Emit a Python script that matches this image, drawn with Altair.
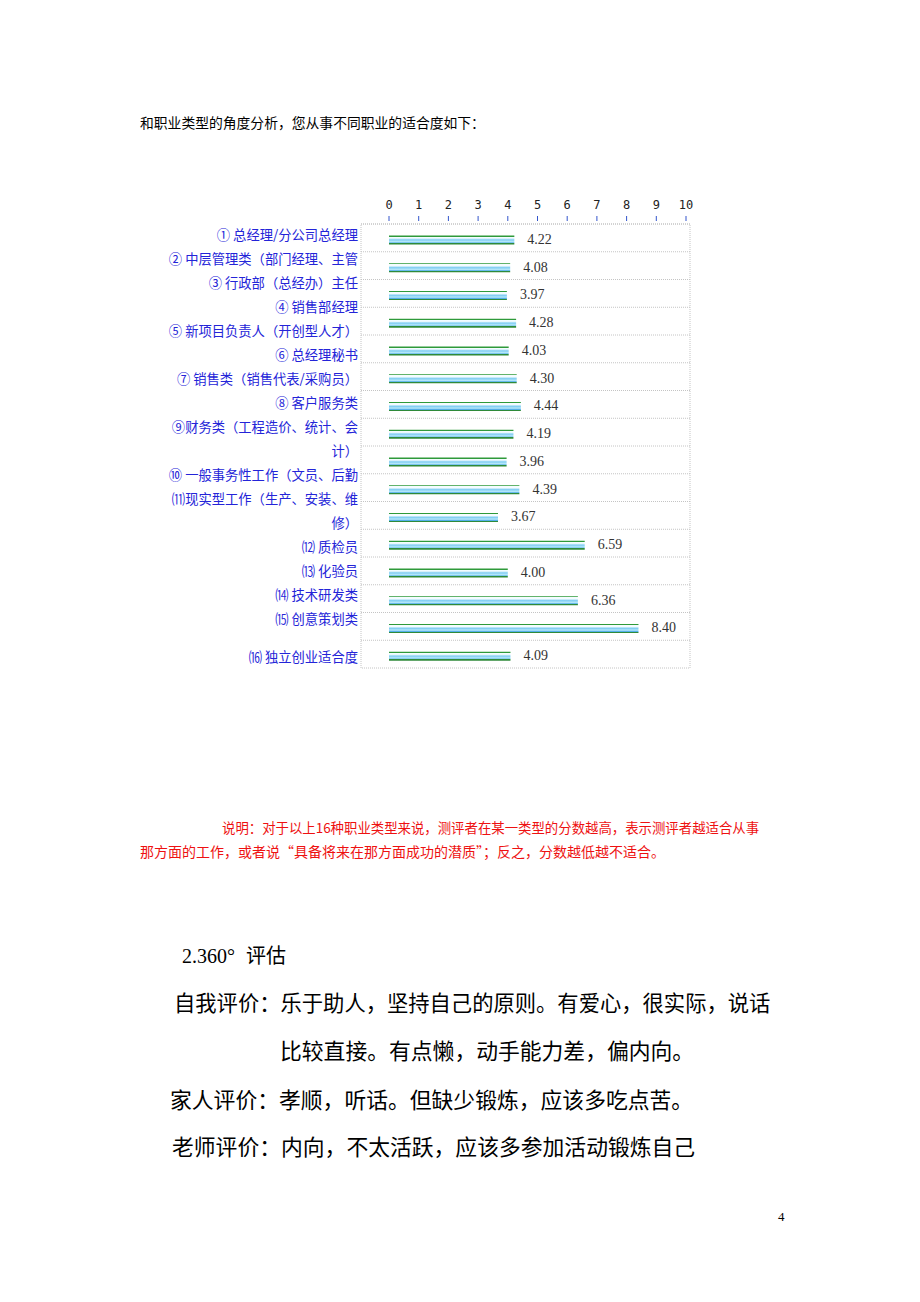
import altair as alt
import pandas as pd

# ---------------- data ----------------
row_ids = [f"r{i}" for i in range(1, 17)]
scores = [4.22, 4.08, 3.97, 4.28, 4.03, 4.30, 4.44, 4.19, 3.96, 4.39, 3.67, 6.59, 4.00, 6.36, 8.40, 4.09]
score_labels = ["4.22", "4.08", "3.97", "4.28", "4.03", "4.30", "4.44", "4.19", "3.96", "4.39", "3.67",
                "6.59", "4.00", "6.36", "8.40", "4.09"]
axis_ticks = list(range(0, 11))

label_lines = [
    "① 总经理/分公司总经理",
    "② 中层管理类（部门经理、主管",
    "③ 行政部（总经办）主任",
    "④ 销售部经理",
    "⑤ 新项目负责人（开创型人才）",
    "⑥ 总经理秘书",
    "⑦ 销售类（销售代表/采购员）",
    "⑧ 客户服务类",
    "⑨财务类（工程造价、统计、会",
    "计）",
    "⑩ 一般事务性工作（文员、后勤",
    "⑾现实型工作（生产、安装、维",
    "修）",
    "⑿ 质检员",
    "⒀ 化验员",
    "⒁ 技术研发类",
    "⒂ 创意策划类",
    "⒃ 独立创业适合度",
]

intro_text = "和职业类型的角度分析，您从事不同职业的适合度如下："
note_line1 = "说明：对于以上16种职业类型来说，测评者在某一类型的分数越高，表示测评者越适合从事"
note_line2 = "那方面的工作，或者说“具备将来在那方面成功的潜质”；反之，分数越低越不适合。"
section_num = "2.360°"
section_word = "评估"
eval_lines = [
    "自我评价：乐于助人，坚持自己的原则。有爱心，很实际，说话",
    "比较直接。有点懒，动手能力差，偏内向。",
    "家人评价：孝顺，听话。但缺少锻炼，应该多吃点苦。",
    "老师评价：内向，不太活跃，应该多参加活动锻炼自己",
]
page_number = "4"

# ---------------- layout ----------------
W, H = 920, 1302
CJK = "Noto Sans CJK SC"
SERIF = "Liberation Serif"

bars_df = pd.DataFrame({"cat": row_ids, "v": scores, "lbl": score_labels})
ticks_df = pd.DataFrame({"t": axis_ticks})

xscale = alt.Scale(domain=[0, 10], range=[389, 686])
yscale = alt.Scale(domain=row_ids, range=[224, 668], paddingInner=0, paddingOuter=0)

layers = []


def text_at(txt, x, y, size, color="#000000", align="left", font=CJK, weight="normal"):
    return alt.Chart(pd.DataFrame({"s": [txt]})).mark_text(
        align=align, baseline="middle", fontSize=size, color=color, font=font, fontWeight=weight
    ).encode(text="s:N", x=alt.value(x), y=alt.value(y))


# intro paragraph
layers.append(text_at(intro_text, 140, 124, 13.8))

# chart frame
frame = alt.Chart(pd.DataFrame({"a": [0]})).mark_rect(
    fill="white", stroke="#c4c4c4", strokeDash=[1, 1], strokeWidth=1
).encode(x=alt.value(361), x2=alt.value(690), y=alt.value(224), y2=alt.value(668))
layers.append(frame)

# row separators
seps = alt.Chart(bars_df).mark_rule(color="#c4c4c4", strokeDash=[1, 1], strokeWidth=1).encode(
    y=alt.Y("cat:N", scale=yscale, axis=None, bandPosition=0),
    x=alt.value(361), x2=alt.value(690),
)
layers.append(seps)

# bars
bar_grad = alt.Gradient(
    gradient="linear", x1=0, x2=0, y1=0, y2=1,
    stops=[
        alt.GradientStop(offset=0.0, color="#2f9a3a"),
        alt.GradientStop(offset=0.13, color="#2f9a3a"),
        alt.GradientStop(offset=0.14, color="#f4fcff"),
        alt.GradientStop(offset=0.3, color="#f4fcff"),
        alt.GradientStop(offset=0.5, color="#7fcdf2"),
        alt.GradientStop(offset=0.7, color="#b8e8fb"),
        alt.GradientStop(offset=0.86, color="#4aaae6"),
        alt.GradientStop(offset=0.87, color="#2f8a3a"),
        alt.GradientStop(offset=1.0, color="#2f8a3a"),
    ],
)
bars = alt.Chart(bars_df).mark_bar(size=9, yOffset=2, color=bar_grad).encode(
    x=alt.X("v:Q", scale=xscale, axis=None),
    x2=alt.datum(0),
    y=alt.Y("cat:N", scale=yscale, axis=None),
)
layers.append(bars)

vals = alt.Chart(bars_df).mark_text(
    align="left", baseline="middle", dx=13, dy=2, fontSize=14, color="#333333", font=SERIF
).encode(
    x=alt.X("v:Q", scale=xscale, axis=None),
    y=alt.Y("cat:N", scale=yscale, axis=None),
    text="lbl:N",
)
layers.append(vals)

# top axis (ticks + labels) through the x scale
tick_marks = alt.Chart(ticks_df).mark_rule(color="#3355cc", strokeWidth=1).encode(
    x=alt.X("t:Q", scale=xscale, axis=None), y=alt.value(216), y2=alt.value(221)
)
tick_text = alt.Chart(ticks_df).mark_text(
    baseline="middle", fontSize=12, color="#222222", font="DejaVu Sans Mono"
).encode(x=alt.X("t:Q", scale=xscale, axis=None), y=alt.value(205), text="t:Q")
layers += [tick_marks, tick_text]

# category label lines (document text, 24px line spacing)
for i, s in enumerate(label_lines):
    y = 236 + 24 * i if i < len(label_lines) - 1 else 658
    layers.append(text_at(s, 358, y, 13.3, color="#2424d8", align="right"))

# red note
layers.append(text_at(note_line1, 222, 829, 13.4, color="#ee1111"))
layers.append(text_at(note_line2, 140, 853, 14, color="#ee1111"))

# 360 evaluation section
layers.append(text_at(section_num, 182, 957, 20, font=SERIF))
layers.append(text_at(section_word, 246, 957, 20))
layers.append(text_at(eval_lines[0], 174, 1005, 21.3))
layers.append(text_at(eval_lines[1], 280, 1052, 21.8))
layers.append(text_at(eval_lines[2], 170, 1101, 21.8))
layers.append(text_at(eval_lines[3], 172, 1148, 21.8))

# page number
layers.append(text_at(page_number, 778, 1217, 13, font=SERIF))

chart = alt.layer(*layers).properties(
    width=W, height=H, padding=0, autosize=alt.AutoSizeParams(type="none"),
    background="white",
).configure_view(stroke=None)

chart.save("out.html", embed_options={"renderer": "svg", "actions": False})
